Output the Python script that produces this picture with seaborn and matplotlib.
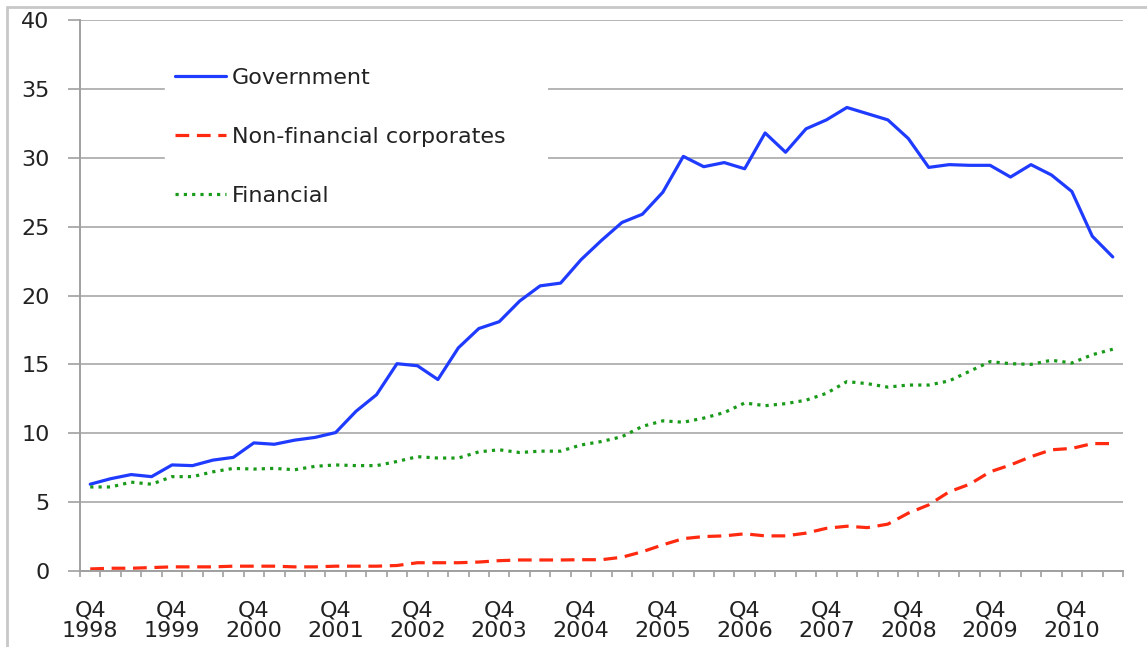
# -*- coding: utf-8 -*-
# Debt holdings by sector, quarterly Q4 1998 - Q2 2011

# 1) IMPORT LIBRARIES
import numpy as np
import pandas as pd
import matplotlib
matplotlib.use("Agg")
import matplotlib.pyplot as plt
import seaborn as sns
from matplotlib.lines import Line2D
from matplotlib.patches import Rectangle

# 2) THE DATA (read off the chart)
quarters = []
for year in range(1998, 2012):
    for q in range(1, 5):
        if (year == 1998 and q < 4) or (year == 2011 and q > 2):
            continue
        quarters.append("Q%d %d" % (q, year))

government = [6.3, 6.7, 7.0, 6.85, 7.7, 7.65, 8.05, 8.25, 9.3, 9.2,
              9.5, 9.7, 10.05, 11.6, 12.8, 15.05, 14.9, 13.9, 16.2,
              17.6, 18.1, 19.6, 20.7, 20.9, 22.6, 24.0, 25.3, 25.9, 27.5,
              30.1, 29.35, 29.65, 29.2, 31.8, 30.4,
              32.1, 32.75, 33.65, 33.2, 32.75, 31.4, 29.3, 29.5, 29.45,
              29.45, 28.6, 29.5, 28.75, 27.55, 24.3, 22.8]
non_financial = [0.15, 0.2, 0.2, 0.25, 0.3, 0.3, 0.3, 0.35, 0.35, 0.35,
                 0.3, 0.3, 0.35, 0.35, 0.35, 0.4, 0.6, 0.6, 0.6,
                 0.65, 0.75, 0.8, 0.8, 0.8, 0.82, 0.82, 1.0, 1.4, 1.9,
                 2.35, 2.5, 2.55, 2.7, 2.55, 2.55,
                 2.75, 3.1, 3.25, 3.15, 3.4, 4.2, 4.8, 5.75, 6.3,
                 7.2, 7.7, 8.3, 8.8, 8.9, 9.25, 9.25]
financial = [6.1, 6.1, 6.45, 6.3, 6.85, 6.85, 7.2, 7.45, 7.4, 7.45,
             7.35, 7.6, 7.7, 7.65, 7.65, 7.95, 8.3, 8.2, 8.2,
             8.65, 8.8, 8.6, 8.7, 8.7, 9.15, 9.4, 9.75, 10.5, 10.9,
             10.8, 11.1, 11.5, 12.2, 12.0, 12.15,
             12.4, 12.9, 13.75, 13.6, 13.35, 13.5, 13.5, 13.8, 14.5,
             15.2, 15.05, 15.0, 15.3, 15.1, 15.7, 16.1]

series_names = ["Government", "Non-financial corporates", "Financial"]
series_colors = {"Government": "#1f3bff",
                 "Non-financial corporates": "#ff2a10",
                 "Financial": "#1a9a1a"}
series_dashes = {"Government": "",
                 "Non-financial corporates": (4.3, 2.4),
                 "Financial": (1.0, 1.6)}

y_ticks = [0, 5, 10, 15, 20, 25, 30, 35, 40]

# long form table for seaborn
pos = np.arange(len(quarters))
df = pd.DataFrame({
    "pos": np.tile(pos, 3),
    "value": government + non_financial + financial,
    "series": np.repeat(series_names, len(quarters)),
})

# 3) PLOT
sns.set_style("white")
plt.rcParams["font.family"] = ["DejaVu Sans"]

fig = plt.figure(figsize=(11.47, 6.47), dpi=100)
W, H = 1147, 647
ax = fig.add_axes([80 / W, 1 - 571 / H, (1123 - 80) / W, (571 - 20) / H])

sns.lineplot(data=df, x="pos", y="value", hue="series", style="series",
             palette=series_colors, dashes=series_dashes,
             hue_order=series_names, style_order=series_names,
             linewidth=2.3, ax=ax, legend=False)

# axes / grid
ax.set_xlim(-0.5, len(quarters) - 0.5)
ax.set_ylim(0, 40)
ax.set_yticks(y_ticks)
ax.set_yticklabels([str(t) for t in y_ticks], fontsize=16, color="#222222")
ax.yaxis.grid(True, color="#b4b4b4", linewidth=1.4)
ax.set_axisbelow(True)

label_pos = [i for i, q in enumerate(quarters) if q.startswith("Q4")]
ax.set_xticks(label_pos)
ax.set_xticklabels(["Q4\n" + quarters[i].split()[1] for i in label_pos],
                   fontsize=16, color="#222222", linespacing=1.05)
ax.set_xticks(np.arange(-0.5, len(quarters), 1), minor=True)
ax.tick_params(axis="x", which="major", length=0, pad=21)
ax.tick_params(axis="x", which="minor", length=4, width=1.2, color="#a0a0a0",
               direction="out", bottom=True)
ax.tick_params(axis="y", which="major", length=9, width=1.2, color="#a0a0a0",
               direction="out", pad=13, left=True)
ax.set_xlabel("")
ax.set_ylabel("")

for side in ["top", "right"]:
    ax.spines[side].set_visible(False)
for side in ["left", "bottom"]:
    ax.spines[side].set_color("#a0a0a0")
    ax.spines[side].set_linewidth(1.4)

# legend
handles = [Line2D([0], [0], color=series_colors[n], linewidth=2.3,
                  dashes=series_dashes[n] if series_dashes[n] else (None, None))
           for n in series_names]
handles[0].set_linestyle("-")
leg = ax.legend(handles, series_names, loc="upper left",
                bbox_to_anchor=(165 / W, 1 - 58 / H),
                bbox_transform=fig.transFigure, fontsize=16, frameon=True,
                fancybox=False, borderaxespad=0, borderpad=0.45,
                handlelength=2.3, handletextpad=0.25, labelspacing=1.75)
leg.get_frame().set_facecolor("white")
leg.get_frame().set_edgecolor("white")
leg.get_frame().set_alpha(1)
for t in leg.get_texts():
    t.set_color("#222222")

# white legend area, a bit wider than the text (as in the source chart)
ax.add_patch(Rectangle((165 / W, 1 - 222 / H), (548 - 165) / W, (222 - 48) / H,
                       transform=fig.transFigure, facecolor="white",
                       edgecolor="none", zorder=1))

# chart area border (top and left only)
fig.add_artist(Line2D([7 / W, 1], [1 - 7 / H, 1 - 7 / H],
                      transform=fig.transFigure, color="#c8c8c8", linewidth=2))
fig.add_artist(Line2D([7 / W, 7 / W], [0, 1 - 7 / H],
                      transform=fig.transFigure, color="#c8c8c8", linewidth=2))

fig.savefig("out.png", dpi=100)
